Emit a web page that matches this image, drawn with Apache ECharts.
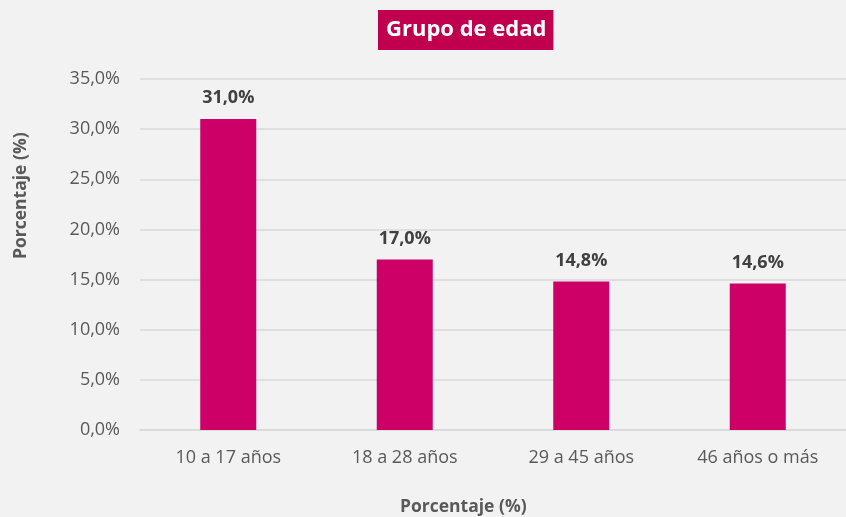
<!DOCTYPE html>
<html>
<head>
<meta charset="utf-8">
<script src="https://cdn.jsdelivr.net/npm/echarts@6/dist/echarts.min.js"></script>
<style>
html, body { margin: 0; padding: 0; background: #f2f2f2; }
#chart { width: 846px; height: 517px; }
</style>
</head>
<body>
<div id="chart"></div>
<script>
var categories = ['10 a 17 años', '18 a 28 años', '29 a 45 años', '46 años o más'];
var values = [31.0, 17.0, 14.8, 14.6];
var yTicks = [0, 5, 10, 15, 20, 25, 30, 35];

var font = '"Open Sans", "Noto Sans", sans-serif';
function pct(v) {
    return v.toFixed(1).replace('.', ',') + '%';
}

var myChart = echarts.init(document.getElementById('chart'));
var option = {
    backgroundColor: '#f2f2f2',
    animation: false,
    title: {
        text: 'Grupo de edad',
        left: 378,
        top: 10,
        backgroundColor: '#c0004e',
        padding: [6, 7, 6, 8],
        textStyle: {
            color: '#ffffff',
            fontFamily: font,
            fontWeight: 'bold',
            fontSize: 22,
            lineHeight: 28
        }
    },
    grid: {
        left: 140,
        top: 79,
        width: 710,
        height: 351
    },
    xAxis: {
        type: 'category',
        data: categories,
        axisTick: { show: false },
        axisLine: { lineStyle: { color: '#d9d9d9', width: 1.5 } },
        axisLabel: {
            color: '#595959',
            fontFamily: font,
            fontSize: 18,
            margin: 19
        }
    },
    yAxis: {
        type: 'value',
        min: yTicks[0],
        max: yTicks[yTicks.length - 1],
        interval: 5,
        axisLine: { show: false },
        axisTick: { show: false },
        splitLine: { lineStyle: { color: '#d9d9d9', width: 1.5 } },
        axisLabel: {
            color: '#595959',
            fontFamily: font,
            fontSize: 18,
            margin: 20,
            formatter: function (v) { return pct(v); }
        }
    },
    graphic: [
        {
            type: 'text',
            left: 400,
            top: 498,
            style: {
                text: 'Porcentaje (%)',
                fill: '#595959',
                font: 'bold 17.5px ' + font
            }
        },
        {
            type: 'text',
            x: 12,
            y: 259,
            rotation: Math.PI / 2,
            style: {
                text: 'Porcentaje (%)',
                fill: '#595959',
                font: 'bold 17.5px ' + font
            }
        }
    ],
    series: [{
        type: 'bar',
        data: values,
        barWidth: 56,
        itemStyle: { color: '#cc0066' },
        label: {
            show: true,
            position: 'top',
            distance: 12,
            color: '#404040',
            fontFamily: font,
            fontWeight: 'bold',
            fontSize: 18,
            formatter: function (p) { return pct(p.value); }
        }
    }]
};
myChart.setOption(option);
</script>
</body>
</html>
